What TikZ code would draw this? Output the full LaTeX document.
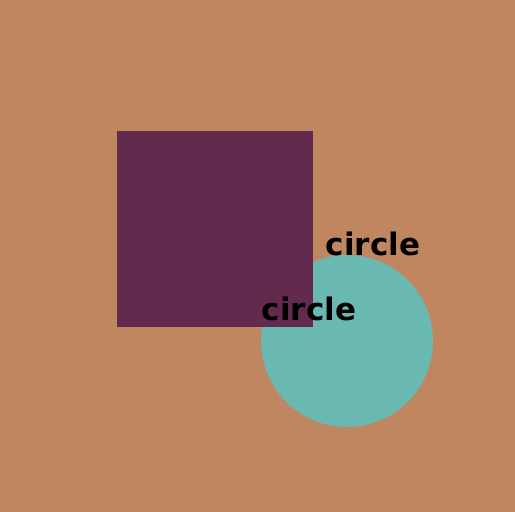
\documentclass[tikz,border=0pt]{standalone}
\usepackage{fontspec}
\setmainfont{DejaVu Sans}
\definecolor{bg}{HTML}{C08660}
\definecolor{sq}{HTML}{622A4C}
\definecolor{ci}{HTML}{6AB8B2}
\tikzset{lbl/.style={font=\bfseries\fontsize{31}{31}\selectfont, text=black, inner sep=0pt, anchor=center}}
\begin{document}
\begin{tikzpicture}[x=1pt,y=-1pt]
\fill[bg] (0,0) rectangle (515,512);
\useasboundingbox (0,0) rectangle (515,512);
\fill[ci] (347,341) circle (86);
\fill[sq] (117,131) rectangle (313,327);
\node[lbl] (t1) at (373,244) {circle};
\node[lbl] (t2) at (309,309) {circle};
\end{tikzpicture}
\end{document}
